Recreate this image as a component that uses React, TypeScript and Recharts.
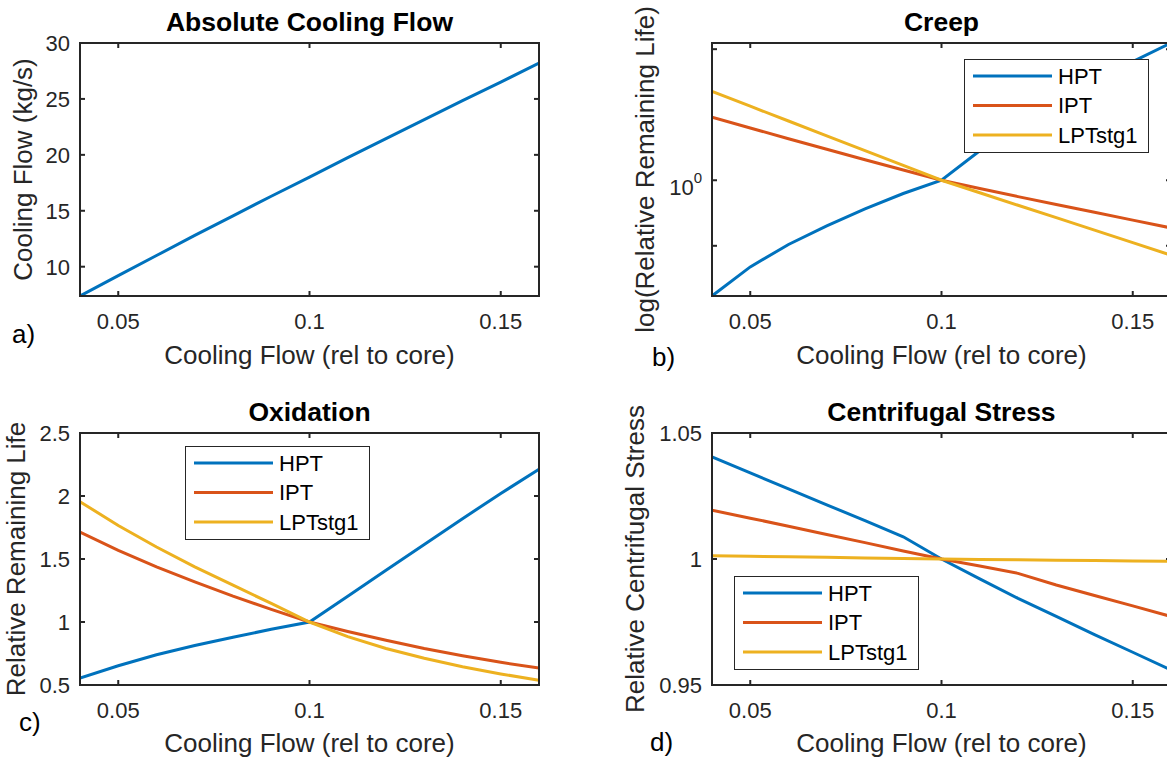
import React from 'react';
import { LineChart, Line, XAxis, YAxis, Legend, Label } from 'recharts';

// ---- data ----
const coolingFlow = [0.04, 0.05, 0.06, 0.07, 0.08, 0.09, 0.1, 0.11, 0.12, 0.13, 0.14, 0.15, 0.16];
const absoluteCoolingFlow = [7.38, 9.2, 11.0, 12.8, 14.55, 16.3, 18.0, 19.75, 21.45, 23.15, 24.85, 26.5, 28.2];

const creepHPT = [0.294, 0.4, 0.507, 0.617, 0.738, 0.869, 1.0, 1.365, 1.758, 2.24, 2.82, 3.51, 4.27];
const creepIPT = [1.95, 1.738, 1.552, 1.387, 1.242, 1.114, 1.0, 0.916, 0.841, 0.774, 0.713, 0.656, 0.604];
const creepLPT = [2.559, 2.188, 1.871, 1.6, 1.368, 1.17, 1.0, 0.876, 0.768, 0.673, 0.59, 0.517, 0.453];

const oxHPT = [0.555, 0.653, 0.74, 0.813, 0.879, 0.942, 1.0, 1.205, 1.41, 1.615, 1.82, 2.02, 2.213];
const oxIPT = [1.713, 1.568, 1.437, 1.318, 1.205, 1.1, 1.0, 0.925, 0.855, 0.79, 0.732, 0.68, 0.634];
const oxLPT = [1.955, 1.766, 1.595, 1.437, 1.292, 1.147, 1.0, 0.884, 0.79, 0.712, 0.645, 0.588, 0.537];

const stressHPT = [1.0405, 1.0342, 1.0278, 1.0215, 1.0152, 1.0088, 1.0, 0.9921, 0.9844, 0.9772, 0.97, 0.963, 0.956];
const stressIPT = [1.0194, 1.0162, 1.013, 1.0097, 1.0065, 1.0032, 1.0, 0.9972, 0.9943, 0.9897, 0.9855, 0.9814, 0.9772];
const stressLPT = [1.0013, 1.0011, 1.0009, 1.0007, 1.0004, 1.0002, 1.0, 0.99985, 0.9997, 0.99955, 0.9994, 0.99925, 0.9991];

const xDomain: [number, number] = [0.04, 0.16];
const xTicks = [0.05, 0.1, 0.15];
const absTicks = [10, 15, 20, 25, 30];
const creepTicks = [0.5, 1, 4];
const oxTicks = [0.5, 1, 1.5, 2, 2.5];
const stressTicks = [0.95, 1, 1.05];

const seriesNames = ['HPT', 'IPT', 'LPTstg1'];
const seriesColors = ['#0072BD', '#D95319', '#EDB120'];

// ---- styles ----
const FONT = '"Liberation Sans", Arial, Helvetica, sans-serif';
const AX = '#262626';
const axisLineStyle = { stroke: AX, strokeWidth: 2, strokeLinecap: 'square' as const };
const tickLineStyle = { stroke: AX, strokeWidth: 2 };
const tickText = { fill: AX, fontSize: 22, fontFamily: FONT };

const build = (cols: Record<string, number[]>) =>
  coolingFlow.map((x, i) => {
    const row: Record<string, number> = { x };
    Object.keys(cols).forEach((k) => (row[k] = cols[k][i]));
    return row;
  });

const dataA = build({ flow: absoluteCoolingFlow });
const dataB = build({ HPT: creepHPT, IPT: creepIPT, LPT: creepLPT });
const dataC = build({ HPT: oxHPT, IPT: oxIPT, LPT: oxLPT });
const dataD = build({ HPT: stressHPT, IPT: stressIPT, LPT: stressLPT });

const threeSeries = [
  { key: 'HPT', name: seriesNames[0], color: seriesColors[0] },
  { key: 'IPT', name: seriesNames[1], color: seriesColors[1] },
  { key: 'LPT', name: seriesNames[2], color: seriesColors[2] },
];

const EmptyTick = () => <g />;

const LogTick = (props: any) => {
  const { x, y, payload } = props;
  if (payload.value !== 1) return <g />;
  return (
    <text x={x} y={y + 15} textAnchor="end" fill={AX} fontFamily={FONT} fontSize={22}>
      10
      <tspan dy={-12} fontSize={15}>0</tspan>
    </text>
  );
};

const LegendBox = (props: any) => {
  const payload = props.payload || [];
  return (
    <svg width={185} height={94} style={{ display: 'block' }}>
      <rect x={0.5} y={0.5} width={184} height={93} fill="#ffffff" stroke={AX} strokeWidth={1} />
      {payload.map((p: any, i: number) => {
        const cy = 17 + i * 29.5;
        return (
          <g key={p.value}>
            <line x1={9} x2={88} y1={cy} y2={cy} stroke={p.color} strokeWidth={3} />
            <text x={94} y={cy + 7.8} fontSize={22} fontFamily={FONT} fill="#000">
              {p.value}
            </text>
          </g>
        );
      })}
    </svg>
  );
};

type PanelProps = {
  left: number;
  top: number;
  width: number;
  height: number;
  margin: { top: number; right: number; bottom: number; left: number };
  yAxisWidth: number;
  xAxisHeight: number;
  title: string;
  xLabel: string;
  yLabel: string;
  xLabelOffset: number;
  yLabelOffset: number;
  yDomain: [number, number];
  yTicks: number[];
  yScale?: 'log' | 'linear';
  yTick?: any;
  data: any[];
  series: { key: string; name: string; color: string }[];
  legendPos?: { left: number; top: number };
};

function Panel(p: PanelProps) {
  return (
    <div style={{ position: 'absolute', left: p.left, top: p.top, width: p.width, height: p.height }}>
      <LineChart width={p.width} height={p.height} data={p.data} margin={p.margin}>
        <XAxis
          xAxisId="b"
          dataKey="x"
          type="number"
          domain={xDomain}
          ticks={xTicks}
          interval={0}
          allowDataOverflow
          orientation="bottom"
          height={p.xAxisHeight}
          tickSize={-5}
          tickMargin={22}
          axisLine={axisLineStyle}
          tickLine={tickLineStyle}
          tick={tickText}
        >
          <Label
            value={p.xLabel}
            position="insideBottom"
            offset={p.xLabelOffset}
            style={{ fill: AX, fontSize: 26, fontFamily: FONT }}
          />
        </XAxis>
        <XAxis
          xAxisId="t"
          dataKey="x"
          type="number"
          domain={xDomain}
          ticks={xTicks}
          interval={0}
          allowDataOverflow
          orientation="top"
          height={1}
          tickSize={-5}
          axisLine={axisLineStyle}
          tickLine={tickLineStyle}
          tick={<EmptyTick />}
        >
          <Label
            value={p.title}
            position="top"
            offset={11}
            style={{ fill: '#000', fontSize: 26.5, fontWeight: 'bold', fontFamily: FONT }}
          />
        </XAxis>
        <YAxis
          yAxisId="l"
          type="number"
          scale={p.yScale || 'linear'}
          domain={p.yDomain}
          ticks={p.yTicks}
          interval={0}
          allowDataOverflow
          orientation="left"
          width={p.yAxisWidth}
          tickSize={-5}
          tickMargin={15}
          axisLine={axisLineStyle}
          tickLine={tickLineStyle}
          tick={p.yTick || tickText}
        >
          <Label
            value={p.yLabel}
            angle={-90}
            position="insideLeft"
            offset={p.yLabelOffset}
            style={{ fill: AX, fontSize: 26, fontFamily: FONT, textAnchor: 'middle' }}
          />
        </YAxis>
        <YAxis
          yAxisId="r"
          type="number"
          scale={p.yScale || 'linear'}
          domain={p.yDomain}
          ticks={p.yTicks}
          interval={0}
          allowDataOverflow
          orientation="right"
          width={1}
          tickSize={-5}
          axisLine={axisLineStyle}
          tickLine={tickLineStyle}
          tick={<EmptyTick />}
        />
        {p.series.map((s) => (
          <Line
            key={s.key}
            xAxisId="b"
            yAxisId="l"
            type="linear"
            dataKey={s.key}
            name={s.name}
            stroke={s.color}
            strokeWidth={3}
            dot={false}
            activeDot={false}
            isAnimationActive={false}
          />
        ))}
        {p.legendPos && (
          <Legend
            content={LegendBox}
            layout="horizontal"
            verticalAlign="middle"
            align="center"
            wrapperStyle={{ left: p.legendPos.left, top: p.legendPos.top, width: 185, height: 94 }}
          />
        )}
      </LineChart>
    </div>
  );
}

const letterStyle = { fill: '#000', fontSize: 26, fontFamily: FONT };

export default function App() {
  return (
    <div
      style={{
        position: 'absolute',
        left: 0,
        top: 0,
        width: 1167,
        height: 759,
        overflow: 'hidden',
        background: '#ffffff',
      }}
    >
      <Panel
        left={0}
        top={0}
        width={580}
        height={380}
        margin={{ top: 42, right: 40, bottom: 0, left: 0 }}
        yAxisWidth={80}
        xAxisHeight={84}
        title="Absolute Cooling Flow"
        xLabel="Cooling Flow (rel to core)"
        yLabel="Cooling Flow (kg/s)"
        xLabelOffset={16}
        yLabelOffset={23}
        yDomain={[7.38, 30]}
        yTicks={absTicks}
        data={dataA}
        series={[{ key: 'flow', name: 'Cooling Flow', color: seriesColors[0] }]}
      />
      <Panel
        left={600}
        top={0}
        width={600}
        height={380}
        margin={{ top: 42, right: 28, bottom: 0, left: 0 }}
        yAxisWidth={112}
        xAxisHeight={84}
        title="Creep"
        xLabel="Cooling Flow (rel to core)"
        yLabel="log(Relative Remaining Life)"
        xLabelOffset={16}
        yLabelOffset={45}
        yDomain={[0.294, 4.27]}
        yTicks={creepTicks}
        yScale="log"
        yTick={<LogTick />}
        data={dataB}
        series={threeSeries}
        legendPos={{ left: 364, top: 59 }}
      />
      <Panel
        left={0}
        top={390}
        width={580}
        height={369}
        margin={{ top: 42, right: 40, bottom: 0, left: 0 }}
        yAxisWidth={80}
        xAxisHeight={74}
        title="Oxidation"
        xLabel="Cooling Flow (rel to core)"
        yLabel="Relative Remaining Life"
        xLabelOffset={7}
        yLabelOffset={16}
        yDomain={[0.5, 2.5]}
        yTicks={oxTicks}
        data={dataC}
        series={threeSeries}
        legendPos={{ left: 185, top: 56 }}
      />
      <Panel
        left={600}
        top={390}
        width={600}
        height={369}
        margin={{ top: 42, right: 28, bottom: 0, left: 0 }}
        yAxisWidth={112}
        xAxisHeight={74}
        title="Centrifugal Stress"
        xLabel="Cooling Flow (rel to core)"
        yLabel="Relative Centrifugal Stress"
        xLabelOffset={7}
        yLabelOffset={35}
        yDomain={[0.95, 1.05]}
        yTicks={stressTicks}
        data={dataD}
        series={threeSeries}
        legendPos={{ left: 134, top: 186 }}
      />
      <svg
        width={1167}
        height={759}
        style={{ position: 'absolute', left: 0, top: 0, pointerEvents: 'none' }}
      >
        <text x={12} y={343} {...letterStyle}>a)</text>
        <text x={652} y={366} {...letterStyle}>b)</text>
        <text x={19} y={731} {...letterStyle}>c)</text>
        <text x={650} y={751} {...letterStyle}>d)</text>
      </svg>
    </div>
  );
}
